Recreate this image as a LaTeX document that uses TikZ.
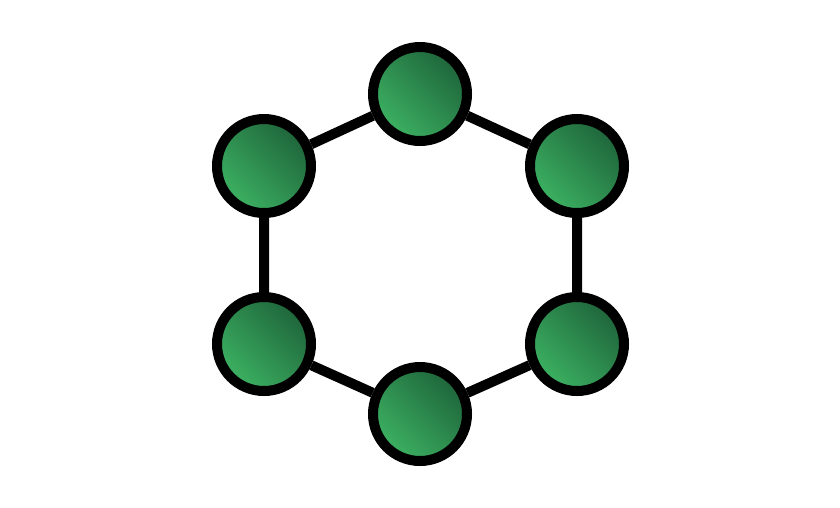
\documentclass[tikz,border=0pt]{standalone}
\definecolor{gdark}{RGB}{30,100,58}
\definecolor{glight}{RGB}{60,178,98}
\begin{document}
\begin{tikzpicture}[x=1pt,y=-1pt,
  hub/.style={circle,draw=black,line width=10pt,minimum size=94pt,inner sep=0pt,
    top color=gdark,bottom color=glight,shading angle=-45},
  link/.style={line width=10pt,draw=black}]
\useasboundingbox[fill=white] (0,0) rectangle (840,507);
\node[hub] (t) at (420,94) {};
\node[hub] (ur) at (577,166) {};
\node[hub] (lr) at (577,344) {};
\node[hub] (b) at (420,414) {};
\node[hub] (ll) at (264,344) {};
\node[hub] (ul) at (264,166) {};
\draw[link] (t) -- (ur) (ur) -- (lr) (lr) -- (b) (b) -- (ll) (ll) -- (ul) (ul) -- (t);
\end{tikzpicture}
\end{document}
